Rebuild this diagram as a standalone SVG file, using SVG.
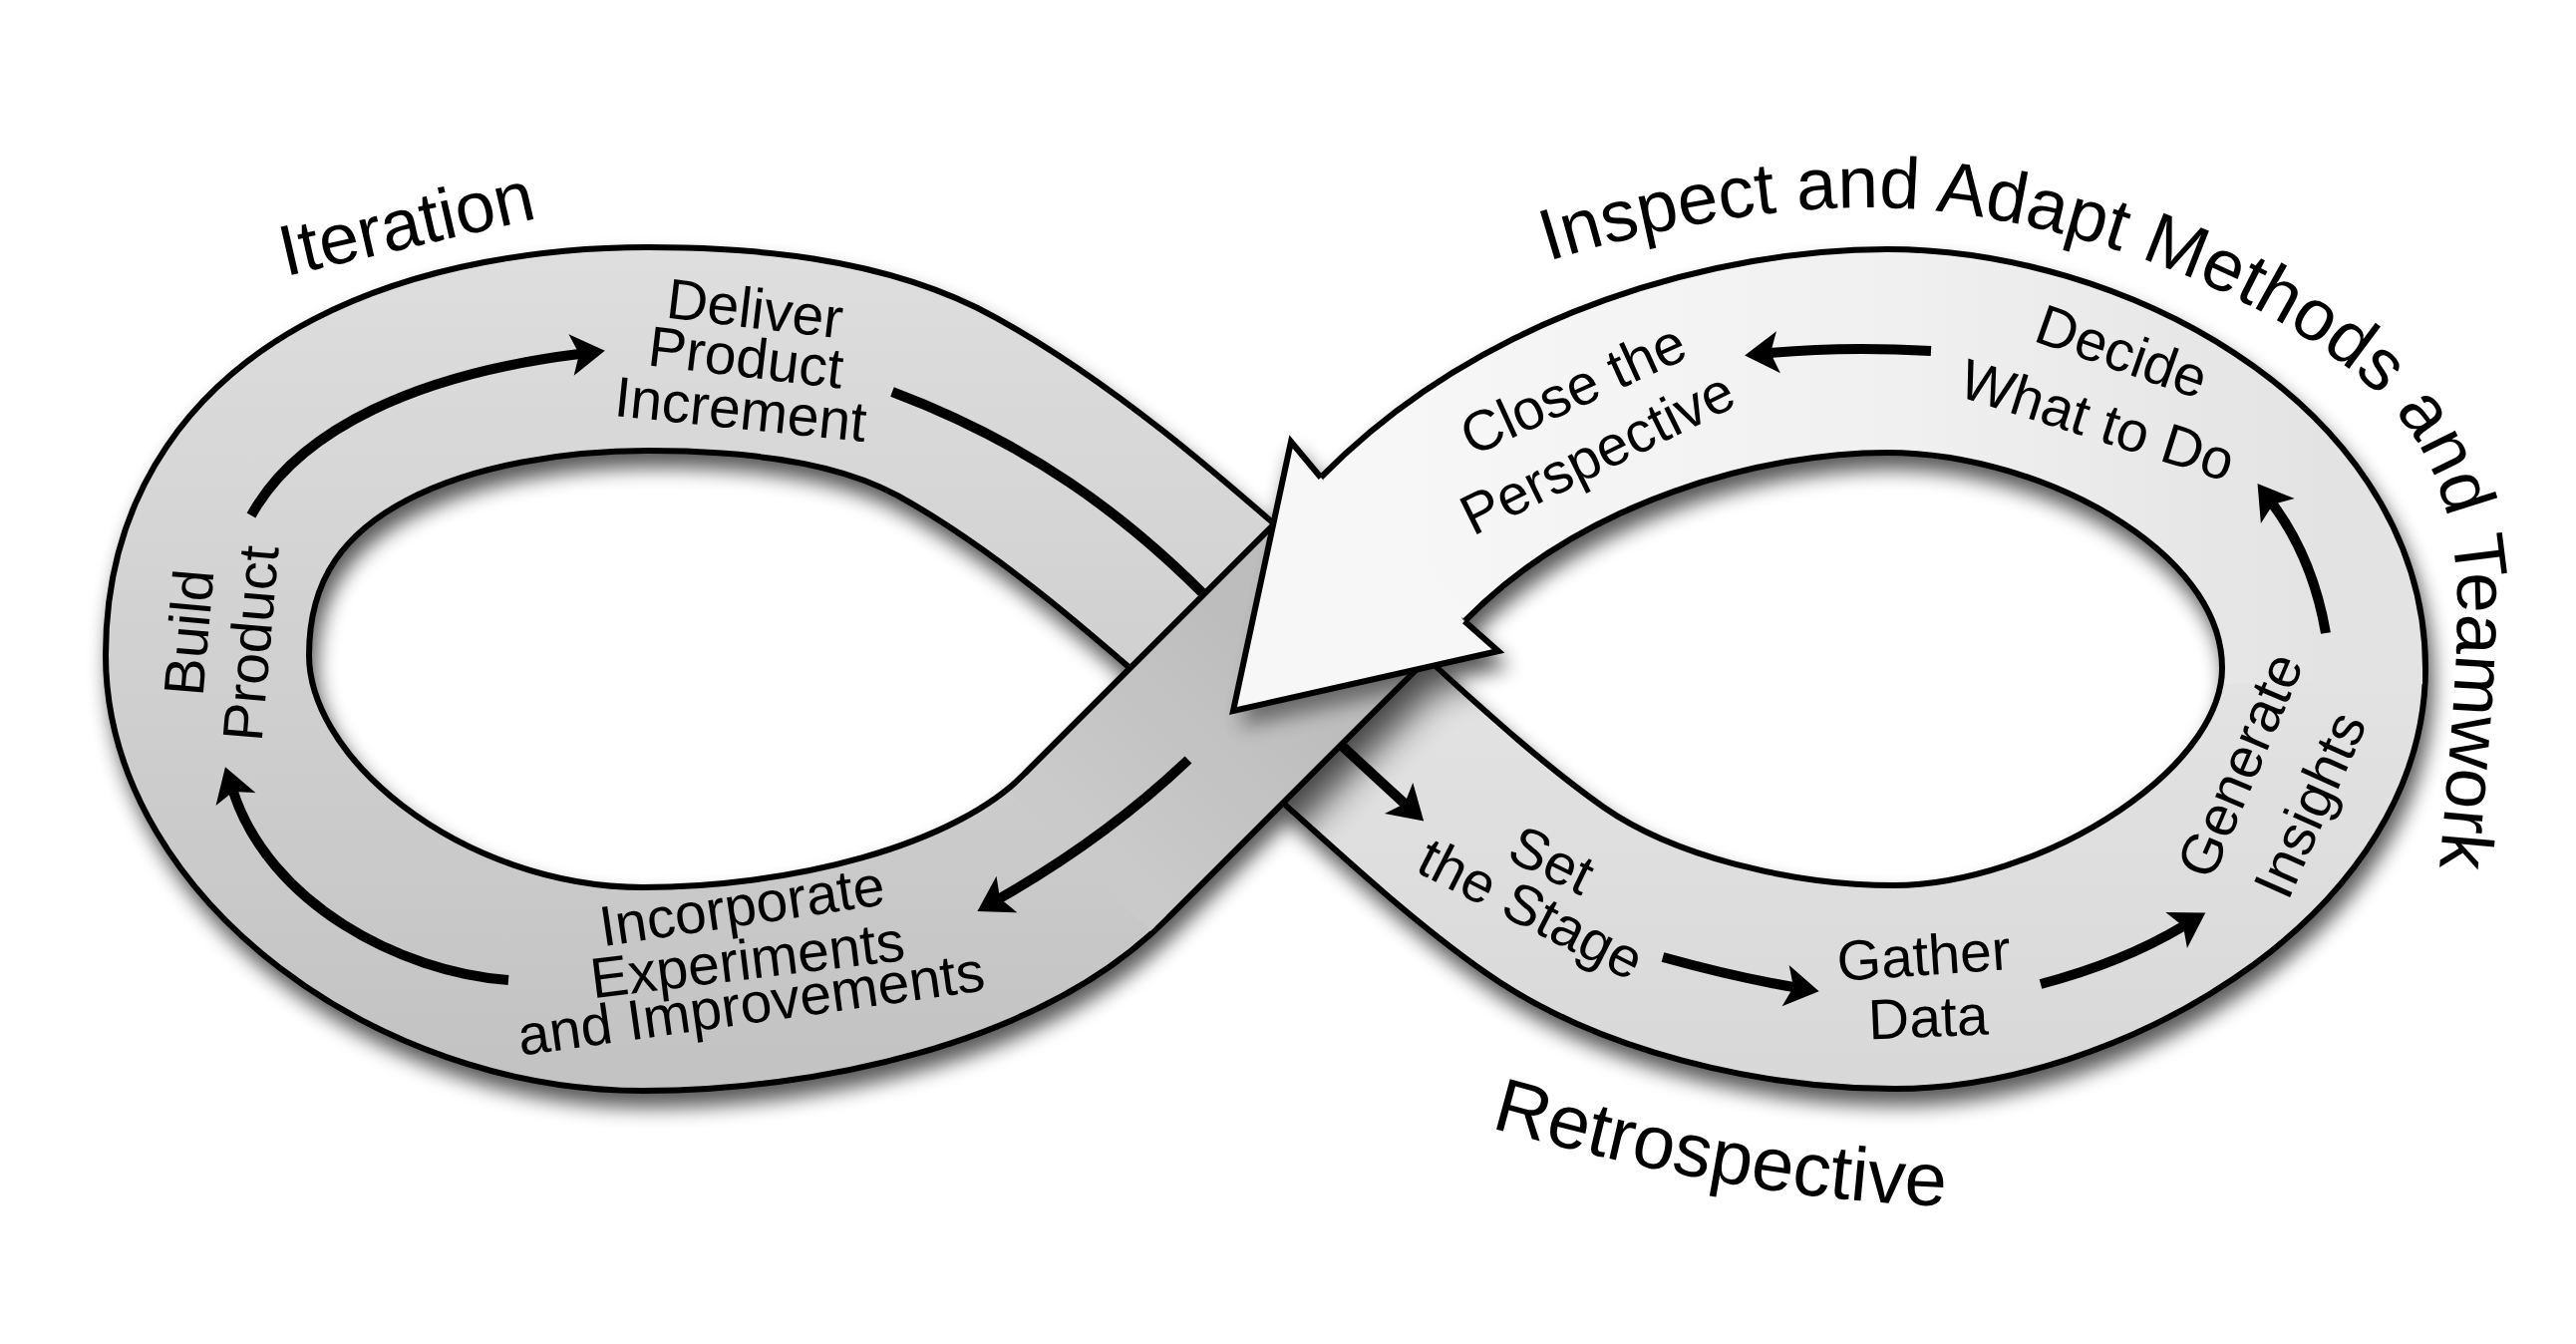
<svg xmlns="http://www.w3.org/2000/svg" width="2584" height="1348" viewBox="0 0 2584 1348">
<defs>
<style>
.edge{fill:none;stroke:#000;stroke-width:210}
.conn{fill:none;stroke:#000;stroke-width:10;marker-end:url(#ah)}
.lbl{font-family:"Liberation Sans",Arial,Helvetica,sans-serif;font-size:57px;fill:#000;text-anchor:middle}
.big{font-family:"Liberation Sans",Arial,Helvetica,sans-serif;font-size:72px;fill:#000}
</style>
<linearGradient id="gL" gradientUnits="userSpaceOnUse" x1="0" y1="250" x2="0" y2="1100"><stop offset="0" stop-color="#dedede"/><stop offset="1" stop-color="#c2c2c2"/></linearGradient>
<linearGradient id="gO" gradientUnits="userSpaceOnUse" x1="1283" y1="665" x2="1100" y2="848"><stop offset="0" stop-color="#bdbdbd"/><stop offset="1" stop-color="#cacaca"/></linearGradient>
<linearGradient id="gRB" gradientUnits="userSpaceOnUse" x1="0" y1="670" x2="0" y2="1090"><stop offset="0" stop-color="#e3e3e3"/><stop offset="1" stop-color="#d8d8d8"/></linearGradient>
<linearGradient id="gRT" gradientUnits="userSpaceOnUse" x1="1400" y1="0" x2="2331" y2="0"><stop offset="0" stop-color="#f7f7f7"/><stop offset="0.55" stop-color="#f0f0f0"/><stop offset="1" stop-color="#e3e3e3"/></linearGradient>
<filter id="drop" filterUnits="userSpaceOnUse" x="0" y="0" width="2584" height="1348" color-interpolation-filters="sRGB">
<feGaussianBlur in="SourceAlpha" stdDeviation="10"/>
<feOffset dx="5" dy="14"/>
<feComponentTransfer><feFuncA type="linear" slope="0.65"/></feComponentTransfer>
<feMerge><feMergeNode/><feMergeNode in="SourceGraphic"/></feMerge>
</filter>
<filter id="soft" filterUnits="userSpaceOnUse" x="0" y="0" width="2584" height="1348"><feGaussianBlur stdDeviation="18"/></filter>
<filter id="soft2" filterUnits="userSpaceOnUse" x="0" y="0" width="2584" height="1348"><feGaussianBlur stdDeviation="10"/></filter>
<mask id="mUnder" maskUnits="userSpaceOnUse" x="0" y="0" width="2584" height="1348"><path d="M 1283 665 C 1370 740, 1460 830, 1550 893 C 1640 956, 1780 990, 1900 990" fill="none" stroke="#fff" stroke-width="198"/></mask>
<mask id="mOver" maskUnits="userSpaceOnUse" x="0" y="0" width="2584" height="1348"><path d="M 1397 551 L 1100 848" fill="none" stroke="#fff" stroke-width="198"/></mask>
<clipPath id="cUL"><path d="M 0 0 L 1800 0 L 0 1800 Z"/></clipPath>
<clipPath id="cLR"><path d="M 2096 0 L 2584 0 L 2584 1348 L 748 1348 Z"/></clipPath>
<marker id="ah" viewBox="-10 -24 40 48" markerWidth="40" markerHeight="48" refX="0" refY="0" orient="auto" markerUnits="userSpaceOnUse"><path d="M 26 0 L -8 -21 L 0 0 L -8 21 Z" fill="#000"/></marker>
<path id="pInspect" d="M 1553 262 C 1650 232, 1760 209, 1870 208 C 2050 207, 2280 290, 2390 400 C 2450 460, 2467 540, 2465 620 C 2463 720, 2450 820, 2440 960" fill="none"/>
<path id="pRetro" d="M 1495 1131 C 1620 1166, 1780 1205, 1960 1210" fill="none"/>
</defs>
<rect width="2584" height="1348" fill="#fff"/>
<g id="band" filter="url(#drop)">
<g id="left-loop">
<path class="edge" d="M 1283 665 C 1200 594, 1080 480, 950 408 C 860 358, 740 350, 650 350 C 470 350, 208 410, 208 657 C 208 830, 420 992, 645 992 C 800 992, 1000 950, 1100 848 L 1283 665"/>
<path d="M 1283 665 C 1200 594, 1080 480, 950 408 C 860 358, 740 350, 650 350 C 470 350, 208 410, 208 657 C 208 830, 420 992, 645 992 C 800 992, 1000 950, 1100 848 L 1283 665" fill="none" stroke="url(#gL)" stroke-width="198"/>
</g>
<g id="right-loop-bottom">
<path class="edge" d="M 1283 665 C 1370 740, 1460 830, 1550 893 C 1640 956, 1780 990, 1900 990 C 2080 990, 2331 850, 2331 670"/>
<path d="M 1283 665 C 1370 740, 1460 830, 1550 893 C 1640 956, 1780 990, 1900 990 C 2080 990, 2331 850, 2331 670" fill="none" stroke="url(#gRB)" stroke-width="198"/>
</g>
<g id="right-loop-top">
<path class="edge" d="M 2331 670 C 2331 480, 2090 352, 1893 352 C 1750 352, 1540 405, 1397 551"/>
<path d="M 2331 686 L 2331 670 C 2331 480, 2090 352, 1893 352 C 1750 352, 1540 405, 1397 551" fill="none" stroke="url(#gRT)" stroke-width="198"/>
</g>
<g id="cross-shadow" mask="url(#mUnder)">
<g filter="url(#soft)" opacity="0.7">
<g transform="translate(14,20)">
<path d="M 1397 551 L 1100 848" fill="none" stroke="#000" stroke-width="210"/>
<path d="M 1325 479 L 1295 443 L 1237 713 L 1503 653 L 1469 623 Z" fill="#000"/>
</g>
</g>
</g>
<g id="over-strand">
<path class="edge" d="M 1397 551 L 1100 848"/>
<path d="M 1397 551 L 1084 864" fill="none" stroke="url(#gO)" stroke-width="198"/>
</g>
<g id="head-shadow" mask="url(#mOver)">
<g filter="url(#soft2)" opacity="0.45">
<path transform="translate(8,16)" d="M 1325 479 L 1295 443 L 1237 713 L 1503 653 L 1469 623 Z" fill="#000"/>
</g>
</g>
<g id="big-arrowhead">
<path d="M 1325 479 L 1295 443 L 1237 713 L 1503 653 L 1469 623 L 1466 620 L 1472 613 L 1335 476 L 1328 482 Z" fill="#f7f7f7"/>
<path d="M 1325 479 L 1295 443 L 1237 713 L 1503 653 L 1469 623" fill="none" stroke="#000" stroke-width="6" stroke-linejoin="miter"/>
</g>
</g>
<g id="connectors">
<path class="conn" d="M 510 983 C 400 975, 270 905, 234 794"/>
<path class="conn" d="M 252 517 C 300 430, 420 375, 581 355"/>
<path clip-path="url(#cUL)" fill="none" stroke="#000" stroke-width="10" d="M 895 393 C 1020 440, 1130 510, 1240 630"/>
<path class="conn" clip-path="url(#cLR)" d="M 1300 705 Q 1350 752, 1409 806"/>
<path class="conn" d="M 1668 960 Q 1740 980, 1799 990"/>
<path class="conn" d="M 2047 987 Q 2130 965, 2190 929"/>
<path class="conn" d="M 2333 635 Q 2320 560, 2280 506"/>
<path class="conn" d="M 1937 352 Q 1850 347, 1776 354"/>
<path class="conn" d="M 1192 762 Q 1110 840, 1003 901"/>
</g>
<g id="title-iteration"><text class="big" text-anchor="middle" transform="translate(413,248) rotate(-13)">Iteration</text></g>
<g id="title-inspect"><text class="big" style="font-size:73px"><textPath href="#pInspect">Inspect and Adapt Methods and Teamwork</textPath></text></g>
<g id="title-retrospective"><text class="big" style="font-size:76px"><textPath href="#pRetro">Retrospective</textPath></text></g>
<g id="node-build-product">
<text class="lbl" transform="translate(209,636) rotate(-85)">Build</text>
<text class="lbl" transform="translate(271,647) rotate(-85)">Product</text>
</g>
<g id="node-deliver">
<text class="lbl" transform="translate(755,329) rotate(6.8)">Deliver</text>
<text class="lbl" transform="translate(746,378) rotate(6.8)">Product</text>
<text class="lbl" transform="translate(741,430) rotate(5.9)">Increment</text>
</g>
<g id="node-incorporate">
<text class="lbl" transform="translate(747,928) rotate(-8.5)">Incorporate</text>
<text class="lbl" transform="translate(752,982) rotate(-7)">Experiments</text>
<text class="lbl" transform="translate(756,1026) rotate(-8)">and Improvements</text>
</g>
<g id="node-set-stage">
<text class="lbl" transform="translate(1548,880) rotate(26)">Set</text>
<text class="lbl" transform="translate(1527,929) rotate(27)">the Stage</text>
</g>
<g id="node-gather">
<text class="lbl" transform="translate(1931,978) rotate(-4)">Gather</text>
<text class="lbl" transform="translate(1935,1040) rotate(-2.4)">Data</text>
</g>
<g id="node-generate">
<text class="lbl" transform="translate(2265,775) rotate(-67)">Generate</text>
<text class="lbl" transform="translate(2335,815) rotate(-66)">Insights</text>
</g>
<g id="node-decide">
<text class="lbl" transform="translate(2122,371) rotate(19.4)">Decide</text>
<text class="lbl" transform="translate(2098,440) rotate(17.7)">What to Do</text>
</g>
<g id="node-close">
<text class="lbl" transform="translate(1586,408) rotate(-24.5)">Close the</text>
<text class="lbl" transform="translate(1611,472) rotate(-26.3)">Perspective</text>
</g>
</svg>
